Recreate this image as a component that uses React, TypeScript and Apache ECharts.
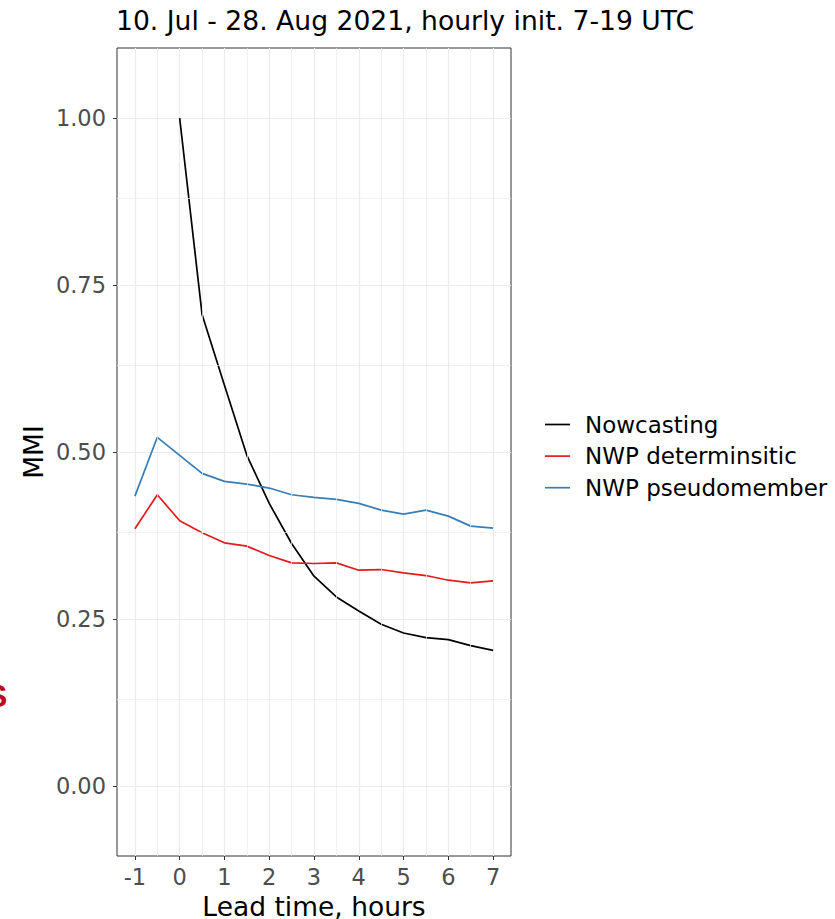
import React, { useEffect, useRef } from "react";
import * as echarts from "echarts";

const leadTimes = [-1, -0.5, 0, 0.5, 1, 1.5, 2, 2.5, 3, 3.5, 4, 4.5, 5, 5.5, 6, 6.5, 7];
const nowcasting = [null, null, 1.0, 0.706, 0.6, 0.495, 0.423, 0.363, 0.314, 0.283, 0.262, 0.242, 0.229, 0.222, 0.219, 0.21, 0.203];
const nwpDeterministic = [0.385, 0.436, 0.397, 0.379, 0.364, 0.359, 0.345, 0.334, 0.333, 0.334, 0.323, 0.324, 0.319, 0.315, 0.308, 0.304, 0.307];
const nwpPseudomember = [0.434, 0.522, 0.495, 0.468, 0.456, 0.452, 0.446, 0.436, 0.432, 0.429, 0.423, 0.413, 0.407, 0.413, 0.404, 0.389, 0.386];

const seriesNames = ["Nowcasting", "NWP determinsitic", "NWP pseudomember"];
const seriesColors = ["#000000", "#e41a1c", "#377eb8"];

const xTicks = [-1, 0, 1, 2, 3, 4, 5, 6, 7];
const yTicks = [0, 0.25, 0.5, 0.75, 1];
const xMinor = [-0.5, 0.5, 1.5, 2.5, 3.5, 4.5, 5.5, 6.5];
const yMinor = [0.125, 0.375, 0.625, 0.875];

const titleText = "10. Jul - 28. Aug 2021, hourly init. 7-19 UTC";
const xName = "Lead time, hours";
const yName = "MMI";

const FONT = "'DejaVu Sans', 'Liberation Sans', Arial, sans-serif";

function pairs(values: (number | null)[]) {
  const out: [number, number][] = [];
  values.forEach((v, i) => {
    if (v !== null) out.push([leadTimes[i], v]);
  });
  return out;
}

export default function App() {
  const ref = useRef<HTMLDivElement>(null);
  useEffect(() => {
    if (!ref.current) return;
    const chart = echarts.init(ref.current, undefined, { renderer: "svg" });
    const allSeries = [nowcasting, nwpDeterministic, nwpPseudomember];
    chart.setOption({
      animation: false,
      backgroundColor: "#ffffff",
      title: {
        text: titleText,
        left: 116,
        top: 7,
        padding: 0,
        textStyle: { fontFamily: FONT, fontSize: 26.6, fontWeight: "normal", color: "#000" },
      },
      legend: {
        orient: "vertical",
        left: 540,
        top: 407,
        data: seriesNames,
        icon: "rect",
        itemWidth: 25,
        itemHeight: 1.7,
        itemGap: 6.6,
        textStyle: { fontFamily: FONT, fontSize: 23, color: "#000", lineHeight: 25, padding: [0, 0, 0, 10] },
      },
      graphic: [
        {
          type: "text",
          left: -14,
          top: 680,
          style: { text: "S", font: `bold 32px 'Liberation Sans', Arial, sans-serif`, fill: "#c20a1e" },
        },
      ],
      grid: {
        left: 117,
        right: 324,
        top: 48,
        bottom: 63,
        outerBoundsMode: "none",
        containLabel: false,
        show: true,
        borderColor: "#333333",
        borderWidth: 1,
        backgroundColor: "transparent",
      },
      xAxis: {
        type: "value",
        min: -1.4,
        max: 7.4,
        name: xName,
        nameLocation: "middle",
        nameGap: 33,
        nameTextStyle: { fontFamily: FONT, fontSize: 26.5, color: "#000", lineHeight: 23 },
        axisLine: { show: false, onZero: false },
        axisTick: { show: true, length: 4, lineStyle: { color: "#333" }, customValues: xTicks },
        axisLabel: { fontFamily: FONT, fontSize: 22.5, color: "#4d4d4d", margin: 9, customValues: xTicks, formatter: (v: number) => String(v) },
        splitLine: { show: true, lineStyle: { color: "#ebebeb", width: 1.2 } },
        minorTick: { show: false },
        minorSplitLine: { show: false },
      },
      yAxis: {
        type: "value",
        min: -0.105,
        max: 1.105,
        name: yName,
        nameLocation: "middle",
        nameGap: 70,
        nameRotate: 90,
        nameTextStyle: { fontFamily: FONT, fontSize: 26.5, color: "#000" },
        axisLine: { show: false, onZero: false },
        axisTick: { show: true, length: 4, lineStyle: { color: "#333" }, customValues: yTicks },
        axisLabel: { fontFamily: FONT, fontSize: 22.5, color: "#4d4d4d", margin: 11, customValues: yTicks, formatter: (v: number) => v.toFixed(2) },
        splitLine: { show: true, lineStyle: { color: "#ebebeb", width: 1.2 } },
        minorTick: { show: false },
        minorSplitLine: { show: false },
      },
      series: [
        {
          name: "_grid",
          type: "line",
          data: [],
          silent: true,
          z: 1,
          markLine: {
            silent: true,
            symbol: ["none", "none"],
            label: { show: false },
            lineStyle: { color: "#ebebeb", width: 0.7, type: "solid" },
            emphasis: { disabled: true },
            data: [...xMinor.map((v) => ({ xAxis: v })), ...yMinor.map((v) => ({ yAxis: v }))],
          },
        },
        ...allSeries.map((vals, i) => ({
          name: seriesNames[i],
          type: "line",
          data: pairs(vals),
          showSymbol: false,
          symbol: "none",
          z: 3,
          color: seriesColors[i],
          lineStyle: { color: seriesColors[i], width: 1.7 },
        })),
      ],
    });
    return () => chart.dispose();
  }, []);
  return (
    <div
      ref={ref}
      style={{ position: "fixed", left: 0, top: 0, width: 835, height: 919, background: "#fff" }}
    />
  );
}
